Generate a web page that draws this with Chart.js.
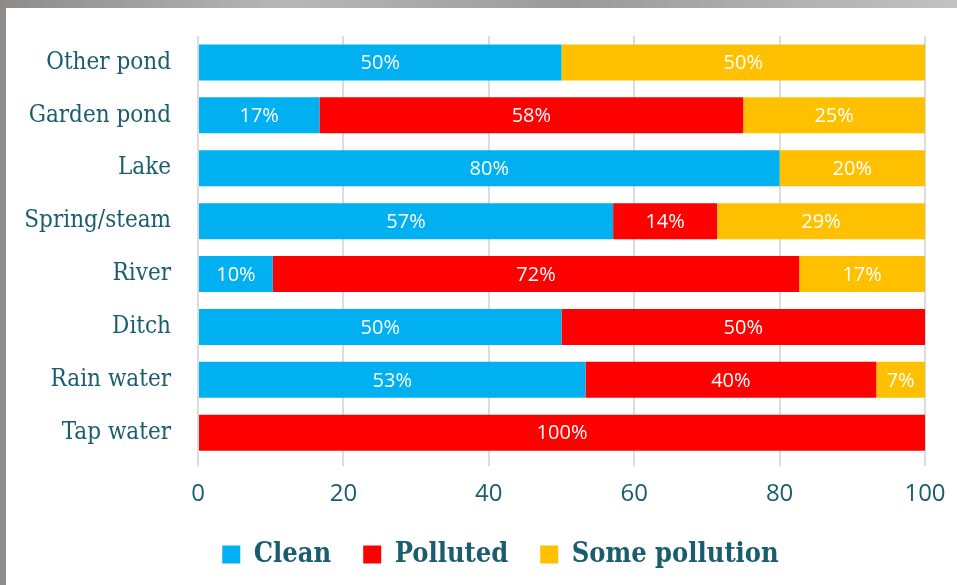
<!DOCTYPE html>
<html>
<head>
<meta charset="utf-8">
<script src="https://cdn.jsdelivr.net/npm/chart.js@4.4.1/dist/chart.umd.min.js"></script>
<style>
    html, body { margin: 0; padding: 0; }
    body {
        width: 957px;
        height: 585px;
        background: linear-gradient(90deg, #8d8a88, #b9b6b3 30%, #9c9996 60%, #c4c1be);
        position: relative;
        overflow: hidden;
    }
    .panel {
        position: absolute;
        left: 6px;
        top: 8px;
        width: 951px;
        height: 577px;
        background: #ffffff;
    }
</style>
</head>
<body>
<div class="panel">
    <canvas id="waterChart" width="951" height="577"></canvas>
</div>
<script>
// chart data
const categories = ['Other pond', 'Garden pond', 'Lake', 'Spring/steam', 'River', 'Ditch', 'Rain water', 'Tap water'];
const clean = [50, 16.7, 80, 57.1, 10.3, 50, 53.3, 0];
const polluted = [0, 58.3, 0, 14.3, 72.4, 50, 40, 100];
const somePollution = [50, 25, 20, 28.6, 17.3, 0, 6.7, 0];
const xTicks = [0, 20, 40, 60, 80, 100];

const teal = '#1a5d6e';
const fontFamily = "'DejaVu Serif Condensed', 'DejaVu Serif', serif";
const sansFamily = "'Open Sans', 'Noto Sans', sans-serif";

// draws the white % text in the middle of each bar piece
const barLabels = {
    id: 'barLabels',
    afterDatasetsDraw(chart) {
        const c = chart.ctx;
        c.save();
        c.fillStyle = '#ffffff';
        c.font = '20px ' + sansFamily;
        c.textAlign = 'center';
        c.textBaseline = 'middle';
        chart.data.datasets.forEach(function (ds, i) {
            chart.getDatasetMeta(i).data.forEach(function (bar, j) {
                const v = ds.data[j];
                if (!v) return;
                const mid = (bar.x + bar.base) / 2;
                c.fillText(Math.round(v) + '%', mid, bar.y + 1);
            });
        });
        c.restore();
    }
};

// pull the legend up closer to the axis and nudge it right
const legendShift = {
    id: 'legendShift',
    afterLayout(chart) {
        const lg = chart.legend;
        lg.top -= 14; lg.bottom -= 14;
        lg.left += 33; lg.right += 33;
    }
};

let ctx = document.getElementById('waterChart').getContext('2d');
let waterChart = new Chart(ctx, {
    type: 'bar',
    data: {
        labels: categories,
        datasets: [
            { label: 'Clean', data: clean, backgroundColor: '#00b0f0' },
            { label: 'Polluted', data: polluted, backgroundColor: '#ff0000' },
            { label: 'Some pollution', data: somePollution, backgroundColor: '#ffc000' }
        ]
    },
    options: {
        indexAxis: 'y',
        responsive: false,
        animation: false,
        categoryPercentage: 1,
        barPercentage: 0.68,
        layout: {
            padding: { top: 28, right: 32, left: 4, bottom: -7 }
        },
        plugins: {
            legend: {
                position: 'bottom',
                labels: {
                    color: teal,
                    boxWidth: 18,
                    boxHeight: 18,
                    padding: 32,
                    font: { size: 27, weight: 'bold', family: fontFamily }
                }
            },
            tooltip: { enabled: false }
        },
        scales: {
            x: {
                stacked: true,
                min: 0,
                max: 100,
                afterBuildTicks: function (axis) {
                    axis.ticks = xTicks.map(v => ({ value: v }));
                },
                afterFit: function (axis) {
                    axis.paddingLeft = 0;
                    axis.paddingRight = 0;
                },
                grid: {
                    color: '#dcdcdc',
                    lineWidth: 2,
                    tickLength: 7,
                    drawTicks: true
                },
                border: { display: false },
                ticks: {
                    color: teal,
                    padding: 14,
                    font: { size: 24, family: sansFamily }
                }
            },
            y: {
                stacked: true,
                grid: { display: false },
                border: { display: false },
                afterFit: function (axis) {
                    axis.width = 188;
                    axis.paddingTop = 0;
                    axis.paddingBottom = 0;
                },
                ticks: {
                    color: teal,
                    padding: 19,
                    font: { size: 24, family: fontFamily }
                }
            }
        }
    },
    plugins: [barLabels, legendShift]
});
</script>
</body>
</html>
